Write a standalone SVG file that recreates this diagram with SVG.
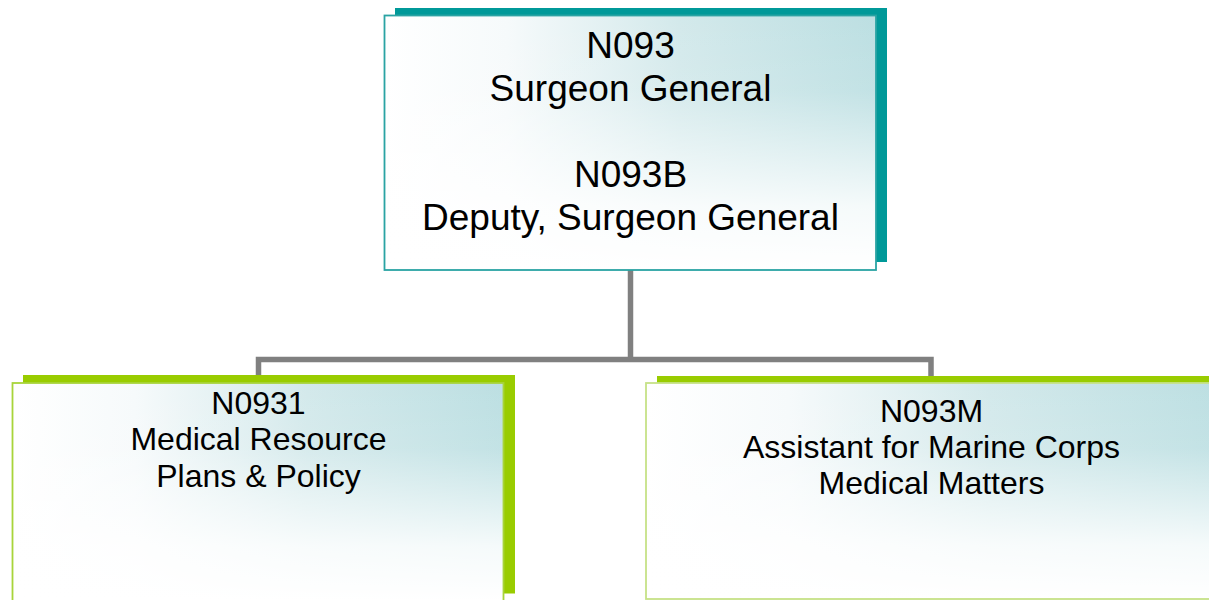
<svg xmlns="http://www.w3.org/2000/svg" width="1209" height="600" viewBox="0 0 1209 600">
  <defs>
    <linearGradient id="gH" x1="0" y1="0" x2="1" y2="0">
      <stop offset="0" stop-color="#ffffff"/>
      <stop offset="0.25" stop-color="#f6fafb"/>
      <stop offset="0.6" stop-color="#d3e9eb"/>
      <stop offset="1" stop-color="#bcdfe2"/>
    </linearGradient>
    <linearGradient id="gV" x1="0" y1="0" x2="0" y2="1">
      <stop offset="0" stop-color="#ffffff" stop-opacity="0"/>
      <stop offset="0.3" stop-color="#ffffff" stop-opacity="0.1"/>
      <stop offset="0.75" stop-color="#ffffff" stop-opacity="0.85"/>
      <stop offset="1" stop-color="#ffffff" stop-opacity="1"/>
    </linearGradient>
    <style>
      .conn { fill: none; stroke: #808080; stroke-width: 5.5; stroke-linejoin: miter; }
      .shT { fill: #009999; }
      .shG { fill: #99cc00; }
      .fillH { fill: url(#gH); }
      .fillV { fill: url(#gV); }
      .bT { fill: none; stroke: #2aa3a3; stroke-width: 1.8; }
      .bG1 { fill: none; stroke: #a8d43a; stroke-width: 1.8; }
      .bG2 { fill: none; stroke: #c6e287; stroke-width: 1.8; }
      text { font-family: "Liberation Sans", Arial, sans-serif; fill: #000000; text-anchor: middle; }
      .t1 { font-size: 37px; }
      .t2 { font-size: 32px; }
    </style>
  </defs>
  <rect width="1209" height="600" fill="#ffffff"/>
  <g id="connectors">
    <path class="conn" d="M630.5 270 V359.5"/>
    <path class="conn" d="M258.5 378 V359.5 H931 V378"/>
  </g>
  <g id="node-n093">
    <rect class="shT" x="395" y="8" width="492" height="254"/>
    <rect class="fillH" x="384.5" y="15.5" width="491.5" height="254.5"/>
    <rect class="fillV" x="384.5" y="15.5" width="491.5" height="254.5"/>
    <rect class="bT" x="384.5" y="15.5" width="491.5" height="254.5"/>
    <text class="t1" x="630.5" y="58">N093</text>
    <text class="t1" x="630.5" y="100.5">Surgeon General</text>
    <text class="t1" x="630.5" y="187">N093B</text>
    <text class="t1" x="630.5" y="229.5">Deputy, Surgeon General</text>
  </g>
  <g id="node-n0931">
    <rect class="shG" x="23" y="375" width="492" height="218.5"/>
    <rect class="fillH" x="12.5" y="383" width="491" height="218"/>
    <rect class="fillV" x="12.5" y="383" width="491" height="218"/>
    <rect class="bG1" x="12.5" y="383" width="491" height="218"/>
    <text class="t2" x="258.5" y="413.5">N0931</text>
    <text class="t2" x="258.5" y="450">Medical Resource</text>
    <text class="t2" x="258.5" y="487">Plans &amp; Policy</text>
  </g>
  <g id="node-n093m">
    <rect class="shG" x="657" y="376" width="570" height="217"/>
    <rect class="fillH" x="646" y="383" width="572" height="216"/>
    <rect class="fillV" x="646" y="383" width="572" height="216"/>
    <rect class="bG2" x="646" y="383" width="572" height="216"/>
    <text class="t2" x="931.5" y="421.5">N093M</text>
    <text class="t2" x="931.5" y="457.5">Assistant for Marine Corps</text>
    <text class="t2" x="931.5" y="493.5">Medical Matters</text>
  </g>
</svg>
